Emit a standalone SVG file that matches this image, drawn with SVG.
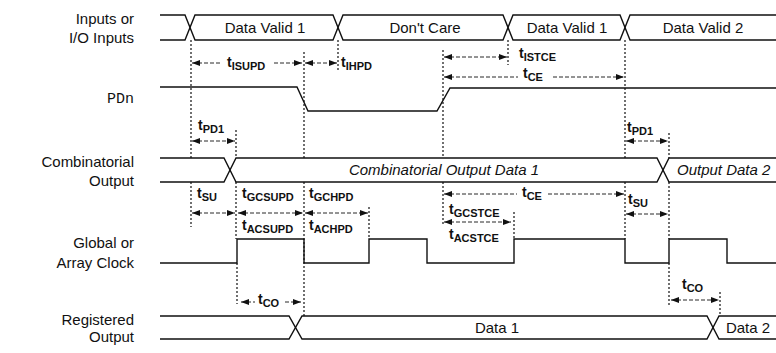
<svg xmlns="http://www.w3.org/2000/svg" width="776" height="353" viewBox="0 0 776 353">
<defs>
<marker id="ah" viewBox="0 0 8 6" refX="8" refY="3" markerWidth="8" markerHeight="6" markerUnits="userSpaceOnUse" orient="auto-start-reverse">
<path d="M0,0 L8,3 L0,6 z" fill="#111"/>
</marker>
<style>
.sig{fill:none;stroke:#111;stroke-width:1.4}
.guide{fill:none;stroke:#111;stroke-width:1.2;stroke-dasharray:2 2}
.arr{fill:none;stroke:#111;stroke-width:0.9;stroke-dasharray:4 2}
.both{marker-start:url(#ah);marker-end:url(#ah)}
.st{marker-start:url(#ah)}
.en{marker-end:url(#ah)}
.lbl{font-family:"Liberation Sans",Arial,sans-serif;font-size:15px;fill:#111;text-anchor:end}
.mono{font-family:"Liberation Mono","Courier New",monospace;font-size:15px;fill:#111;text-anchor:end}
.bus{font-family:"Liberation Sans",Arial,sans-serif;font-size:15px;fill:#111;text-anchor:middle}
.it{font-style:italic}
.tl{font-family:"Liberation Sans",Arial,sans-serif;font-size:14px;font-weight:bold;fill:#111}
.sub{font-size:11px}
</style>
</defs>

<g id="labels">
<text class="lbl" x="134" y="24">Inputs or</text>
<text class="lbl" x="134" y="43">I/O Inputs</text>
<text class="mono" x="134" y="103">PDn</text>
<text class="lbl" x="134" y="167">Combinatorial</text>
<text class="lbl" x="134" y="186">Output</text>
<text class="lbl" x="134" y="248">Global or</text>
<text class="lbl" x="134" y="268">Array Clock</text>
<text class="lbl" x="134" y="325">Registered</text>
<text class="lbl" x="134" y="342">Output</text>
</g>

<g id="inputs">
<path class="sig" d="M160,15 H185 L195,40 H333 L343,15 H503 L513,40 H620 L630,15 H776"/>
<path class="sig" d="M160,40 H185 L195,15 H333 L343,40 H503 L513,15 H620 L630,40 H776"/>
<text class="bus" x="265" y="33">Data Valid 1</text>
<text class="bus" x="425" y="33">Don't Care</text>
<text class="bus" x="567" y="33">Data Valid 1</text>
<text class="bus" x="703" y="33">Data Valid 2</text>
</g>

<g id="pdn">
<path class="sig" d="M160,87 H297 L308,111 H437 L450,88 H776"/>
</g>

<g id="combinatorial">
<path class="sig" d="M160,158 H224 L236,182 H657 L669,158 H776"/>
<path class="sig" d="M160,182 H224 L236,158 H657 L669,182 H776"/>
<text class="bus it" x="444" y="175">Combinatorial Output Data 1</text>
<text class="bus it" x="677" y="175" style="text-anchor:start">Output Data 2</text>
</g>

<g id="clock">
<path class="sig" d="M160,263 H237 V239 H304 V263 H369 V239 H427 V263 H514 V239 H625 V263 H669 V239 H727 V263 H776"/>
</g>

<g id="registered">
<path class="sig" d="M160,316 H289 L302,339 H707 L719,316 H776"/>
<path class="sig" d="M160,339 H289 L302,316 H707 L719,339 H776"/>
<text class="bus" x="497" y="333">Data 1</text>
<text class="bus" x="748" y="333">Data 2</text>
</g>

<g id="guides">
<path class="guide" d="M191,40 V158 M191,182 V227"/>
<path class="guide" d="M304,52 V158 M304,182 V316"/>
<path class="guide" d="M338,40 V70"/>
<path class="guide" d="M236,130 V158 M236,182 V239 M237,263 V304"/>
<path class="guide" d="M443,50 V158 M443,182 V224"/>
<path class="guide" d="M508,40 V65"/>
<path class="guide" d="M514,212 V239"/>
<path class="guide" d="M369,207 V239"/>
<path class="guide" d="M625,40 V158 M625,182 V239"/>
<path class="guide" d="M669,133 V158 M669,182 V239 M669,263 V306"/>
<path class="guide" d="M720,292 V316"/>
</g>

<g id="connectors">
<path class="arr st" d="M192,63 H220"/>
<path class="arr en" d="M274,63 H302"/>
<text class="tl" x="227" y="67">t<tspan class="sub" dy="3">ISUPD</tspan></text>
<path class="arr both" d="M305,63 H337"/>
<text class="tl" x="341" y="67">t<tspan class="sub" dy="3">IHPD</tspan></text>

<path class="arr both" d="M444,57 H507"/>
<text class="tl" x="519" y="58">t<tspan class="sub" dy="3">ISTCE</tspan></text>
<path class="arr st" d="M444,77 H518"/>
<path class="arr en" d="M553,77 H624"/>
<text class="tl" x="523" y="78">t<tspan class="sub" dy="3">CE</tspan></text>

<path class="arr both" d="M192,141 H235"/>
<text class="tl" x="198" y="130">t<tspan class="sub" dy="3">PD1</tspan></text>
<path class="arr both" d="M626,141 H668"/>
<text class="tl" x="627" y="132">t<tspan class="sub" dy="3">PD1</tspan></text>

<path class="arr both" d="M192,213 H235"/>
<text class="tl" x="197" y="198">t<tspan class="sub" dy="3">SU</tspan></text>
<path class="arr both" d="M238,213 H303"/>
<text class="tl" x="242" y="198">t<tspan class="sub" dy="3">GCSUPD</tspan></text>
<text class="tl" x="242" y="230">t<tspan class="sub" dy="3">ACSUPD</tspan></text>
<path class="arr both" d="M305,213 H368"/>
<text class="tl" x="309" y="198">t<tspan class="sub" dy="3">GCHPD</tspan></text>
<text class="tl" x="309" y="230">t<tspan class="sub" dy="3">ACHPD</tspan></text>

<path class="arr st" d="M444,194 H517"/>
<path class="arr en" d="M548,194 H624"/>
<text class="tl" x="522" y="197">t<tspan class="sub" dy="3">CE</tspan></text>
<path class="arr both" d="M444,222 H511"/>
<text class="tl" x="449" y="214">t<tspan class="sub" dy="3">GCSTCE</tspan></text>
<text class="tl" x="449" y="239">t<tspan class="sub" dy="3">ACSTCE</tspan></text>
<path class="arr both" d="M626,214 H668"/>
<text class="tl" x="628" y="204">t<tspan class="sub" dy="3">SU</tspan></text>

<path class="arr st" d="M241,302 H255"/>
<path class="arr en" d="M285,302 H301"/>
<text class="tl" x="258" y="304">t<tspan class="sub" dy="3">CO</tspan></text>
<path class="arr both" d="M671,300 H719"/>
<text class="tl" x="682" y="289">t<tspan class="sub" dy="3">CO</tspan></text>
</g>
</svg>
